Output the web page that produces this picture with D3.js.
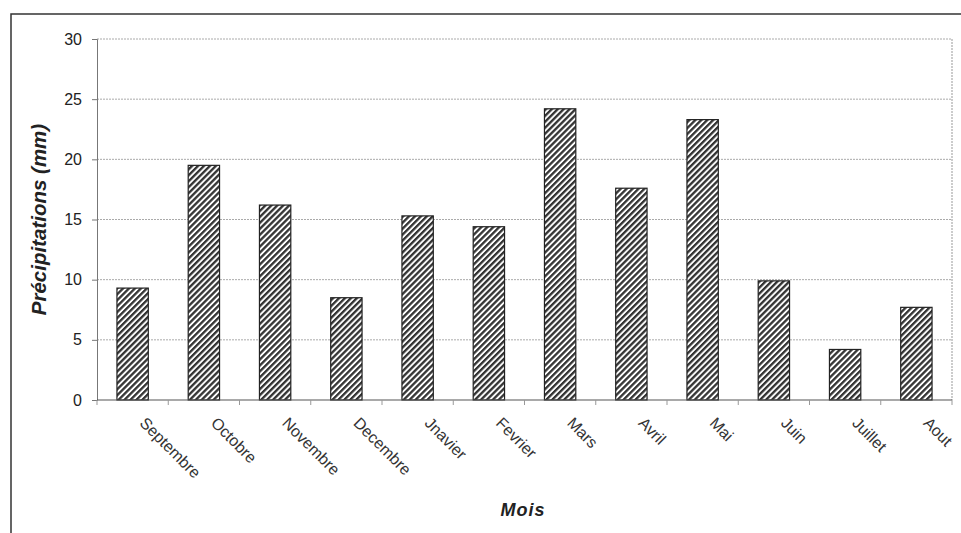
<!DOCTYPE html>
<html><head><meta charset="utf-8">
<script src="https://cdn.jsdelivr.net/npm/d3@7"></script>
<style>body{margin:0;background:#fff;} svg{display:block;font-family:"Liberation Sans",Arial,sans-serif;}</style>
</head><body>
<svg id="c" width="961" height="533"></svg>
<script>
const months = ["Septembre","Octobre","Novembre","Decembre","Jnavier","Fevrier","Mars","Avril","Mai","Juin","Juillet","Aout"];
const precip = [9.3,19.5,16.2,8.5,15.3,14.4,24.2,17.6,23.3,9.9,4.2,7.7];
const yTicks = [0,5,10,15,20,25,30];

const svg = d3.select("#c");
const m = {l:97, r:952, t:39, b:400};

// outer frame
svg.append("path").attr("d","M11,533 L11,14 L961,14").attr("fill","none").attr("stroke","#333").attr("stroke-width",1.5);

const defs = svg.append("defs");
const pat = defs.append("pattern").attr("id","hatch").attr("patternUnits","userSpaceOnUse")
  .attr("width",4.2).attr("height",4.2).attr("patternTransform","rotate(45)");
pat.append("rect").attr("width",4.2).attr("height",4.2).attr("fill","#fff");
pat.append("rect").attr("width",2.3).attr("height",4.2).attr("fill","#333");

const x = d3.scaleBand().domain(months).range([m.l,m.r]).paddingInner(0.56).paddingOuter(0.28);
const xb = d3.scaleBand().domain(months).range([m.l,m.r]);
const y = d3.scaleLinear().domain([0,30]).range([m.b,m.t]);

// gridlines
svg.append("g").selectAll("line").data(yTicks.filter(d=>d>0)).join("line")
  .attr("x1",m.l).attr("x2",m.r).attr("y1",d=>y(d)).attr("y2",d=>y(d))
  .attr("stroke","#aaa").attr("stroke-width",1).attr("stroke-dasharray","2,1");
// right border of plot
svg.append("line").attr("x1",m.r).attr("x2",m.r).attr("y1",m.t).attr("y2",m.b)
  .attr("stroke","#999").attr("stroke-dasharray","2,1");

// bars
svg.append("g").selectAll("rect").data(months).join("rect")
  .attr("x",d=>x(d)).attr("width",x.bandwidth())
  .attr("y",(d,i)=>y(precip[i])).attr("height",(d,i)=>m.b-y(precip[i]))
  .attr("fill","url(#hatch)").attr("stroke","#222").attr("stroke-width",1.2);

// y axis
const ya = svg.append("g").attr("transform",`translate(${m.l},0)`)
  .call(d3.axisLeft(y).tickValues(yTicks).tickSize(5).tickPadding(10));
ya.select(".domain").attr("stroke","#777");
ya.selectAll(".tick line").attr("stroke","#777");
ya.selectAll("text").attr("font-size",16).attr("fill","#222").attr("font-family","Liberation Sans, Arial");

// x axis
const xa = svg.append("g").attr("transform",`translate(0,${m.b})`);
xa.append("line").attr("x1",m.l).attr("x2",m.r).attr("stroke","#555").attr("stroke-width",1.2);
xa.selectAll("line.t").data(months.concat(["end"])).join("line").attr("class","t")
  .attr("x1",(d,i)=>m.l+i*xb.step()).attr("x2",(d,i)=>m.l+i*xb.step()).attr("y1",0).attr("y2",5)
  .attr("stroke","#999");
xa.selectAll("text").data(months).join("text")
  .attr("transform",d=>`translate(${xb(d)+xb.bandwidth()/2+6},${24}) rotate(45)`)
  .attr("font-size",16).attr("fill","#333").attr("text-anchor","start")
  .text(d=>d);

// axis titles
svg.append("text").attr("transform",`translate(46,${(m.t+m.b)/2}) rotate(-90)`)
  .attr("text-anchor","middle").attr("font-size",20.5).attr("font-weight","bold").attr("font-style","italic")
  .attr("fill","#222").text("Précipitations (mm)");
svg.append("text").attr("x",523).attr("y",516).attr("text-anchor","middle")
  .attr("font-size",18).attr("font-weight","bold").attr("font-style","italic").attr("letter-spacing",1)
  .attr("fill","#222").text("Mois");
</script>
</body></html>
